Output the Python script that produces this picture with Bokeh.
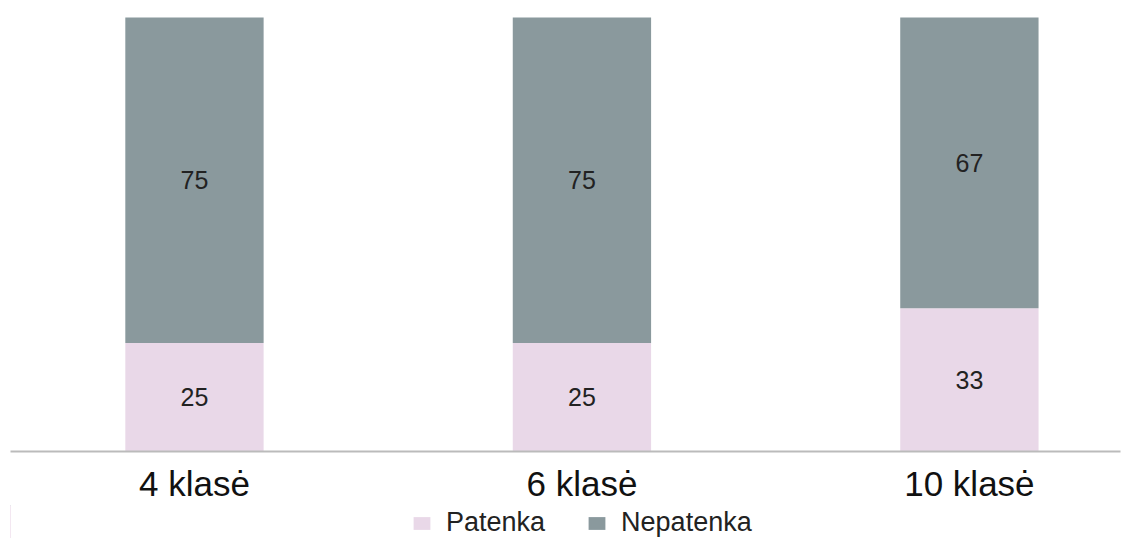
from bokeh.plotting import figure
from bokeh.models import ColumnDataSource, Legend, LegendItem, FixedTicker, Range1d
from bokeh.layouts import column
from bokeh.core.properties import value
from bokeh.embed import file_html
from bokeh.resources import INLINE

categories = ["4 klasė", "6 klasė", "10 klasė"]
series_names = ["Patenka", "Nepatenka"]
patenka = [25, 25, 33]
nepatenka = [75, 75, 67]

FONT = "Liberation Sans"
PINK = "#e9d8e8"
GREY = "#8a999d"
COLORS = [PINK, GREY]

xs = list(range(len(categories)))
src = ColumnDataSource(dict(
    x=xs, patenka=patenka, nepatenka=nepatenka,
    p_mid=[v / 2 for v in patenka],
    n_mid=[p + n / 2 for p, n in zip(patenka, nepatenka)],
    p_lab=[str(v) for v in patenka],
    n_lab=[str(v) for v in nepatenka],
))

p = figure(width=1134, height=505, output_backend="svg", toolbar_location=None,
           x_range=Range1d(-0.4748, 2.39), y_range=Range1d(0, 103.9),
           min_border_top=0, min_border_left=10, min_border_right=14, min_border_bottom=54)

r = p.vbar_stack(["patenka", "nepatenka"], x="x", width=0.357, source=src,
                 color=COLORS, line_color=None)

p.text(x="x", y="p_mid", text="p_lab", source=src, text_align="center", text_baseline="middle",
       text_font=value(FONT), text_font_size="25px", text_color="#222222")
p.text(x="x", y="n_mid", text="n_lab", source=src, text_align="center", text_baseline="middle",
       text_font=value(FONT), text_font_size="25px", text_color="#222222")

p.yaxis.visible = False
p.grid.visible = False
p.outline_line_color = None
p.background_fill_color = "white"
p.border_fill_color = "white"

xa = p.xaxis[0]
xa.ticker = FixedTicker(ticks=xs)
xa.major_label_overrides = {i: c for i, c in enumerate(categories)}
xa.major_label_text_font = FONT
xa.major_label_text_font_size = "35px"
xa.major_label_text_color = "#111111"
xa.major_label_standoff = 12
xa.major_tick_out = 0
xa.major_tick_in = 0
xa.minor_tick_out = 0
xa.minor_tick_in = 0
xa.major_tick_line_color = None
xa.minor_tick_line_color = None
xa.axis_line_color = "#bbbbbb"
xa.axis_line_width = 2

# legend strip below the chart (its bars lie outside the visible x range)
lg = figure(width=1134, height=33, output_backend="svg", toolbar_location=None,
            x_range=Range1d(100, 101), y_range=Range1d(0, 1),
            min_border_top=0, min_border_left=0, min_border_right=0, min_border_bottom=0)
lg.axis.visible = False
lg.grid.visible = False
lg.outline_line_color = None
lg.background_fill_color = "white"
lg.border_fill_color = "white"
proxy = lg.vbar_stack(["patenka", "nepatenka"], x="x", width=0.357, source=src,
                      color=COLORS, line_color=None)

legend = Legend(items=[LegendItem(label=n, renderers=[d]) for n, d in zip(series_names, proxy)],
                orientation="horizontal", location=(401, 0),
                label_text_font=FONT, label_text_font_size="27px", label_text_color="#222222",
                glyph_width=21, glyph_height=16, label_standoff=14, spacing=41,
                padding=0, margin=0,
                border_line_color=None, background_fill_alpha=0)
lg.add_layout(legend, "center")

layout = column(p, lg, spacing=0)
open("out.html", "w").write(file_html(layout, INLINE))
